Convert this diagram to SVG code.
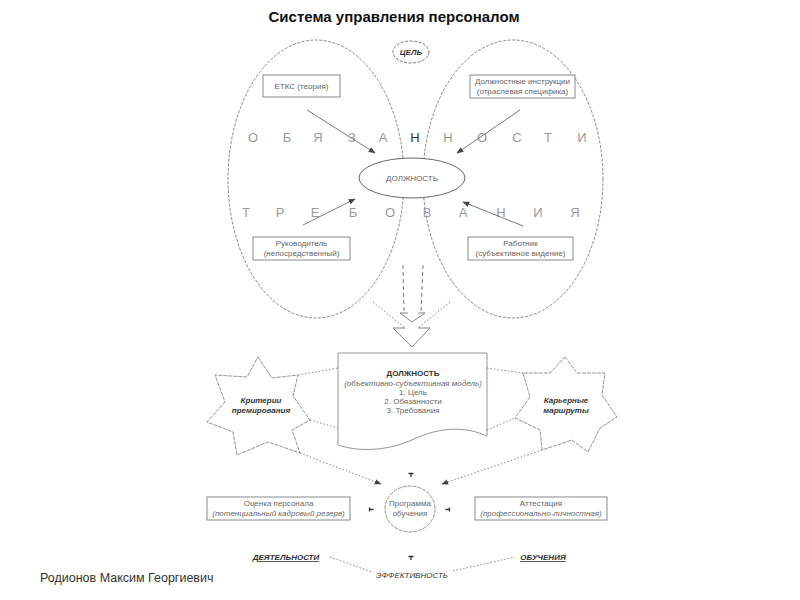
<svg xmlns="http://www.w3.org/2000/svg" width="800" height="600" viewBox="0 0 800 600">
<defs>
<style>
text{font-family:"Liberation Sans",Arial,sans-serif;fill:#666;}
.t{font-size:15px;font-weight:bold;fill:#111;}
.s{font-size:8px;text-anchor:middle;}
.si{font-size:8px;text-anchor:middle;font-style:italic;}
.sb{font-size:8px;text-anchor:middle;font-weight:bold;fill:#333;}
.sbi{font-size:8px;text-anchor:middle;font-weight:bold;font-style:italic;fill:#333;}
.big{font-size:13px;text-anchor:middle;fill:#999;}
.box{fill:#fff;stroke:#888;stroke-width:1;}
.dash{fill:none;stroke:#555;stroke-width:0.7;stroke-dasharray:3,1.5;}
.star{fill:#fff;stroke:#666;stroke-width:0.7;stroke-dasharray:4,1;}
.arr{stroke:#555;stroke-width:0.8;fill:none;marker-end:url(#ah);}
.dot{stroke:#666;stroke-width:0.8;fill:none;stroke-dasharray:1.5,2;}
.dotA{stroke:#666;stroke-width:0.8;fill:none;stroke-dasharray:1.5,2;marker-end:url(#ah);}
.ln{stroke:#666;stroke-width:0.8;fill:none;}
.dl{stroke:#666;stroke-width:0.9;fill:none;stroke-dasharray:4,3;}
.tk{stroke:#333;stroke-width:1.3;fill:none;}
</style>
<marker id="ah" viewBox="0 0 10 10" refX="9" refY="5" markerWidth="7" markerHeight="7" orient="auto" markerUnits="userSpaceOnUse">
<path d="M0,1 L10,5 L0,9 Z" fill="#444"/>
</marker>
</defs>
<rect width="800" height="600" fill="#fff"/>

<text class="t" x="394" y="22" text-anchor="middle">Система управления персоналом</text>

<g id="ellipse-left"><ellipse class="dash" cx="316" cy="179" rx="88" ry="139"/></g>
<g id="ellipse-right"><ellipse class="dash" cx="513" cy="179" rx="90" ry="139"/></g>

<g id="goal">
<ellipse cx="411" cy="52" rx="18" ry="11" fill="#fff" stroke="#555" stroke-width="0.8" stroke-dasharray="3,1.5"/>
<text class="sbi" x="411" y="55" font-size="7">ЦЕЛЬ</text>
</g>

<g id="letters1">
<text class="big" x="253" y="142">О</text>
<text class="big" x="287" y="142">Б</text>
<text class="big" x="318" y="142">Я</text>
<text class="big" x="352" y="142">З</text>
<text class="big" x="383" y="142">А</text>
<text class="big" x="415" y="142" style="fill:#333">Н</text>
<text class="big" x="448" y="142">Н</text>
<text class="big" x="482" y="142">О</text>
<text class="big" x="517" y="142">С</text>
<text class="big" x="548" y="142">Т</text>
<text class="big" x="582" y="142">И</text>
</g>
<g id="letters2">
<text class="big" x="246" y="217">Т</text>
<text class="big" x="280" y="217">Р</text>
<text class="big" x="315" y="217">Е</text>
<text class="big" x="353" y="217">Б</text>
<text class="big" x="390" y="217">О</text>
<text class="big" x="427" y="217">В</text>
<text class="big" x="463" y="217">А</text>
<text class="big" x="501" y="217">Н</text>
<text class="big" x="538" y="217">И</text>
<text class="big" x="575" y="217">Я</text>
</g>

<g id="etks">
<rect class="box" x="263" y="75" width="77" height="22"/>
<text class="s" x="301.5" y="89">ЕТКС (теория)</text>
</g>
<g id="instr">
<rect class="box" x="470" y="75" width="105" height="23"/>
<text class="s" x="522.5" y="84">Должностные инструкции</text>
<text class="s" x="522.5" y="94">(отраслевая специфика)</text>
</g>
<g id="position">
<ellipse cx="412" cy="178" rx="53" ry="20" fill="#fff" stroke="#555" stroke-width="0.9"/>
<text class="s" x="412" y="181">ДОЛЖНОСТЬ</text>
</g>
<g id="manager">
<rect class="box" x="253" y="237" width="97" height="23"/>
<text class="s" x="301.5" y="246">Руководитель</text>
<text class="s" x="301.5" y="256">(непосредственный)</text>
</g>
<g id="worker">
<rect class="box" x="468" y="237" width="105" height="23"/>
<text class="s" x="520.5" y="246">Работник</text>
<text class="s" x="520.5" y="256">(субъективное видение)</text>
</g>

<g id="doc">
<path d="M338,353 H487 V436 C465,426 440,427 414,439 C390,450 362,453 338,445 Z" fill="#fff" stroke="#888" stroke-width="0.9"/>
<text class="sb" x="413" y="376">ДОЛЖНОСТЬ</text>
<text class="si" x="413" y="386">(объективно-субъективная модель)</text>
<text class="s" x="413" y="395">1. Цель</text>
<text class="s" x="413" y="404">2. Обязанности</text>
<text class="s" x="413" y="413">3. Требования</text>
</g>

<g id="star-left">
<polygon class="star" points="258,357 272,378 298,375 293,396 310,420 292,430 300,453 268,442 237,455 233,432 207,422 225,402 215,375 247,377"/>
<text class="sbi" x="261" y="403">Критерии</text>
<text class="sbi" x="261" y="413">премирования</text>
</g>
<g id="star-right">
<polygon class="star" points="565,357 577,373 605,373 602,395 617,417 600,428 588,452 572,440 542,450 540,430 515,418 530,397 523,373 550,373"/>
<text class="sbi" x="566" y="403">Карьерные</text>
<text class="sbi" x="566" y="413">маршруты</text>
</g>

<g id="training">
<ellipse cx="410" cy="509" rx="25" ry="23" fill="#fff" stroke="#777" stroke-width="0.8" stroke-dasharray="4,1"/>
<text class="s" x="410" y="506">Программа</text>
<text class="s" x="410" y="516">обучения</text>
</g>
<g id="assessment">
<rect class="box" x="207" y="497" width="143" height="23"/>
<text class="s" x="278.5" y="506">Оценка персонала</text>
<text class="si" x="278.5" y="516">(потенциальный кадровый резерв)</text>
</g>
<g id="attestation">
<rect class="box" x="475" y="497" width="132" height="23"/>
<text class="s" x="541" y="506">Аттестация</text>
<text class="si" x="541" y="516">(профессионально-личностная)</text>
</g>

<g id="activity"><text class="sbi" x="286" y="560" text-decoration="underline" style="fill:#333">ДЕЯТЕЛЬНОСТИ</text></g>
<g id="learning"><text class="sbi" x="543" y="560" text-decoration="underline" style="fill:#333">ОБУЧЕНИЯ</text></g>
<g id="efficiency"><text class="si" x="412" y="578" style="fill:#333">ЭФФЕКТИВНОСТЬ</text></g>

<g id="connectors">
<line class="arr" x1="307" y1="110" x2="375" y2="153"/>
<line class="arr" x1="520" y1="110" x2="457" y2="153"/>
<line class="arr" x1="303" y1="225" x2="355" y2="199"/>
<line class="arr" x1="523" y1="226" x2="463" y2="202"/>

<line class="dl" x1="403" y1="265" x2="404" y2="313"/>
<line class="dl" x1="423" y1="265" x2="421" y2="313"/>
<polyline class="ln" points="408,313 400,313 412,322 425,313 418,313"/>
<line class="dot" x1="373" y1="302" x2="405" y2="328"/>
<line class="dot" x1="450" y1="302" x2="418" y2="328"/>
<polyline class="ln" points="405,328 393,328 412,347 430,328 418,328"/>

<line class="dot" x1="298" y1="375" x2="338" y2="368"/>
<line class="dot" x1="310" y1="420" x2="338" y2="428"/>
<line class="dotA" x1="300" y1="453" x2="381" y2="484"/>
<line class="dot" x1="487" y1="368" x2="523" y2="373"/>
<line class="dot" x1="487" y1="430" x2="515" y2="418"/>
<line class="dotA" x1="542" y1="450" x2="442" y2="484"/>

<line class="dot" x1="330" y1="557" x2="372" y2="572"/>
<line class="dot" x1="453" y1="571" x2="515" y2="557"/>

<path class="tk" d="M408.5,473.5 h5 M411,473.5 v3.5"/>
<path class="tk" d="M369.5,507.5 v4 M369.5,509.5 h4"/>
<path class="tk" d="M449.5,507.5 v4 M449.5,509.5 h-4"/>
<path class="tk" d="M408.5,556.5 h5 M411,556.5 v3.5"/>
</g>

<text x="40" y="582" font-size="12.5" style="fill:#333">Родионов Максим Георгиевич</text>
</svg>
